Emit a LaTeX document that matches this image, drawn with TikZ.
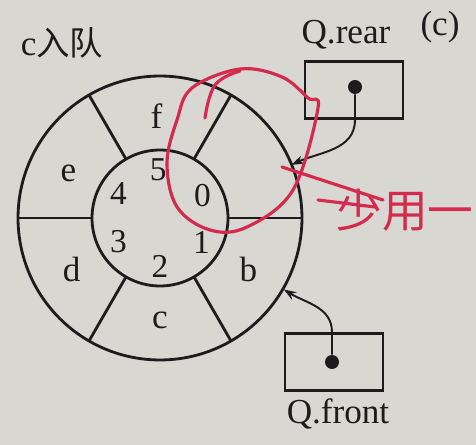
\documentclass[tikz,border=0pt]{standalone}
\usepackage{fontspec}
\setmainfont{Liberation Serif}
\newfontfamily\cjk{Noto Sans CJK SC}
\usetikzlibrary{arrows.meta, positioning, calc}
\definecolor{ink}{HTML}{1C1C1C}
\definecolor{paper}{HTML}{D8D7D2}
\definecolor{pen}{HTML}{D42A4E}
\tikzset{
  ring/.style={draw=ink, line width=1.6pt},
  ptrbox/.style={rectangle, draw=ink, line width=1.6pt, minimum width=1.96cm,
                 minimum height=1.14cm, inner sep=0pt},
  ptrdot/.style={circle, fill=ink, inner sep=0pt, minimum size=0.28cm},
  lbl/.style={font=\fontsize{20}{22}\selectfont, text=ink, inner sep=1pt},
  idx/.style={font=\fontsize{19}{21}\selectfont, text=ink, inner sep=1pt},
  elem/.style={font=\fontsize{20}{22}\selectfont, text=ink, inner sep=1pt},
  arr/.style={-{Stealth[length=7pt, width=5pt]}, line width=1.1pt, draw=ink},
  pen/.style={draw=pen, line width=1.8pt, line cap=round, line join=round},
}
\begin{document}
\begin{tikzpicture}[x=0.02cm, y=0.02cm]
  % paper, 476 x 445 px, ring centre at px (160,218)
  \fill[paper] (-160,-227) rectangle (316,218);
  \useasboundingbox (-160,-227) rectangle (316,218);
  \coordinate (o) at (0,0);

  % ring
  \draw[ring] (o) circle[radius=2.84cm];
  \draw[ring] (o) circle[radius=1.36cm];
  \foreach \a in {0,60,...,300}
    \draw[ring] (\a:68) -- (\a:142);

  % slot numbers and elements
  \foreach \n/\a in {0/28,1/-30,2/-90,3/-150,4/150,5/92}
    \node[idx] (i\n) at (\a:48) {\n};
  \foreach \l/\a in {b/-30,c/-90,d/-150,e/154,f/92}
    \node[elem] (s\l) at (\a:102) {\l};

  % pointers
  \node[ptrbox] (rearbox) at (194,128) {};
  \node[ptrdot] (reardot) at (195,131) {};
  \node[lbl] (rearlbl) at (186,183) {Q.rear};
  \node[ptrbox] (frontbox) at (174,-144) {};
  \node[ptrdot] (frontdot) at (172,-144) {};
  \node[lbl] (frontlbl) at (178,-196) {Q.front};
  \coordinate (rimr) at (22:142);
  \coordinate (rimf) at (-30:143);
  \draw[arr] (reardot) -- (reardot |- rearbox.south) to[out=-90, in=25] (rimr);
  \draw[arr] (frontdot) -- (frontdot |- frontbox.north) to[out=90, in=-32] (rimf);

  % captions
  \node[lbl] (title) at (-98,175) {c{\cjk\fontsize{19}{21}\selectfont 入队}};
  \node[lbl] (tag) at (280,191) {(c)};

  % red pen notes
  \draw[pen] plot[smooth cycle, tension=0.6] coordinates {
    (158,110) (133,28) (87,-9) (50,-12) (17,11) (7,55) (17,98)
    (32,130) (80,149) (122,141) (148,120)};
  \draw[pen] plot[smooth, tension=0.7] coordinates {(45,100) (55,133) (80,147)};
  \draw[pen] (122,51) -- (223,18);
  \draw[pen] (158,18) -- (215,11);
  \node[text=pen, font=\cjk\fontsize{26}{28}\selectfont, anchor=east, inner sep=0pt]
    (note) at (314,8) {少用一};
\end{tikzpicture}
\end{document}
